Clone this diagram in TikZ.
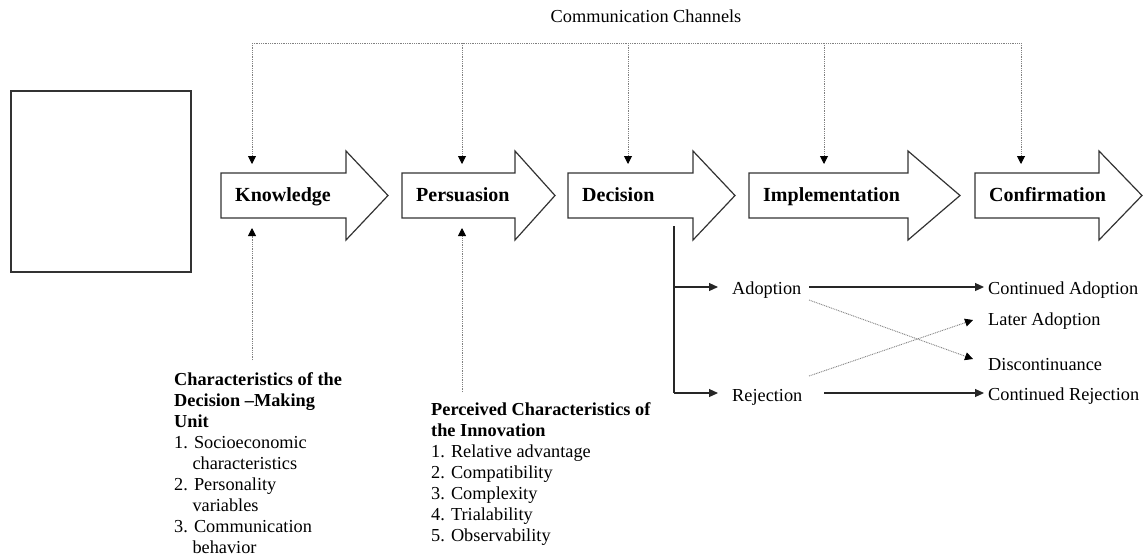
\documentclass[tikz,border=0pt]{standalone}
\usepackage{fontspec}
\setmainfont{Liberation Serif}
\usetikzlibrary{arrows.meta}
\newcommand\stagearrow[5]{%
  \draw[stage] (#1,173) -- (#2,173) -- (#2,151) -- (#3,195.5) -- (#2,240) -- (#2,218) -- (#1,218) -- cycle;
  \node[stagelbl] (#4) at (#1+14,201) {#5};
}
\begin{document}
\begin{tikzpicture}[x=1pt,y=-1pt,
  stage/.style={draw=black!80, line width=1.2pt, fill=white},
  stagelbl/.style={font=\fontsize{20}{24}\selectfont\bfseries, anchor=base west, inner sep=0pt},
  body/.style={font=\fontsize{18.3}{21}\selectfont, inner sep=0pt},
  solidarrow/.style={draw=black!85, line width=1.1pt, -{Triangle[length=9pt,width=8pt]}},
  solidline/.style={draw=black!85, line width=1.1pt},
  dotline/.style={draw=black!50, line width=0.9pt, dash pattern=on 0.9pt off 0.9pt},
  dotarrow/.style={dotline, -{Triangle[length=8pt,width=8pt,color=black]}}]
\useasboundingbox (0,0) rectangle (1145,558);
\fill[white] (0,0) rectangle (1145,558);

% title
\node[body, anchor=base] (cc) at (646,22) {Communication Channels};

% empty box
\node[draw=black!80, line width=1.2pt, minimum width=180pt, minimum height=181pt, inner sep=0pt] (blank) at (101,181.5) {};

% stages
\stagearrow{221}{346}{388}{know}{Knowledge}
\stagearrow{402}{515}{555}{pers}{Persuasion}
\stagearrow{568}{693}{735}{deci}{Decision}
\stagearrow{749}{908}{960}{impl}{Implementation}
\stagearrow{975}{1099}{1142}{conf}{Confirmation}

% communication channels connectors
\coordinate (ch1) at (252,43);
\coordinate (ch2) at (462,43);
\coordinate (ch3) at (628,43);
\coordinate (ch4) at (824,43);
\coordinate (ch5) at (1021,43);
\coordinate (in1) at (252,164);
\coordinate (in2) at (462,164);
\coordinate (in3) at (628,164);
\coordinate (in4) at (824,164);
\coordinate (in5) at (1021,164);
\draw[dotline] (ch1) -- (ch5);
\foreach \i in {1,...,5} { \draw[dotarrow] (ch\i) -- (in\i); }

% lower text blocks
\node[body, anchor=north west, align=left] (dmu) at (174,372.4) {\textbf{Characteristics of the}\\\textbf{Decision –Making}\\\textbf{Unit}\\1. Socioeconomic\\\phantom{1.\ }characteristics\\2. Personality\\\phantom{1.\ }variables\\3. Communication\\\phantom{1.\ }behavior};
\node[body, anchor=north west, align=left] (pci) at (431,402.4) {\textbf{Perceived Characteristics of}\\\textbf{the Innovation}\\1. Relative advantage\\2. Compatibility\\3. Complexity\\4. Trialability\\5. Observability};

\coordinate (up1s) at (252,360);
\coordinate (up1e) at (252,228);
\coordinate (up2s) at (462,392);
\coordinate (up2e) at (462,228);
\draw[dotarrow] (up1s) -- (up1e);
\draw[dotarrow] (up2s) -- (up2e);

% decision outcomes
\node[body, anchor=base west] (adopt) at (732,294) {Adoption};
\node[body, anchor=base west] (reject) at (732,401) {Rejection};
\node[body, anchor=base west] (cadopt) at (988,294) {Continued Adoption};
\node[body, anchor=base west] (later) at (988,325) {Later Adoption};
\node[body, anchor=base west] (disc) at (988,370) {Discontinuance};
\node[body, anchor=base west] (crej) at (988,400) {Continued Rejection};

\coordinate (stem) at (674,226);
\coordinate (adopt-in) at (718,287);
\coordinate (rej-in) at (718,393);
\draw[solidline] (stem) -- (674,393);
\draw[solidarrow] (674,287) -- (adopt-in);
\draw[solidarrow] (674,393) -- (rej-in);

\coordinate (adopt-out) at (809,287);
\coordinate (cadopt-in) at (984,287);
\coordinate (rej-out) at (824,393);
\coordinate (crej-in) at (984,393);
\draw[solidarrow] (adopt-out) -- (cadopt-in);
\draw[solidarrow] (rej-out) -- (crej-in);

\coordinate (adopt-x) at (809,300);
\coordinate (disc-in) at (973,359);
\coordinate (rej-x) at (809,376);
\coordinate (later-in) at (973,320);
\draw[dotarrow] (adopt-x) -- (disc-in);
\draw[dotarrow] (rej-x) -- (later-in);
\end{tikzpicture}
\end{document}
